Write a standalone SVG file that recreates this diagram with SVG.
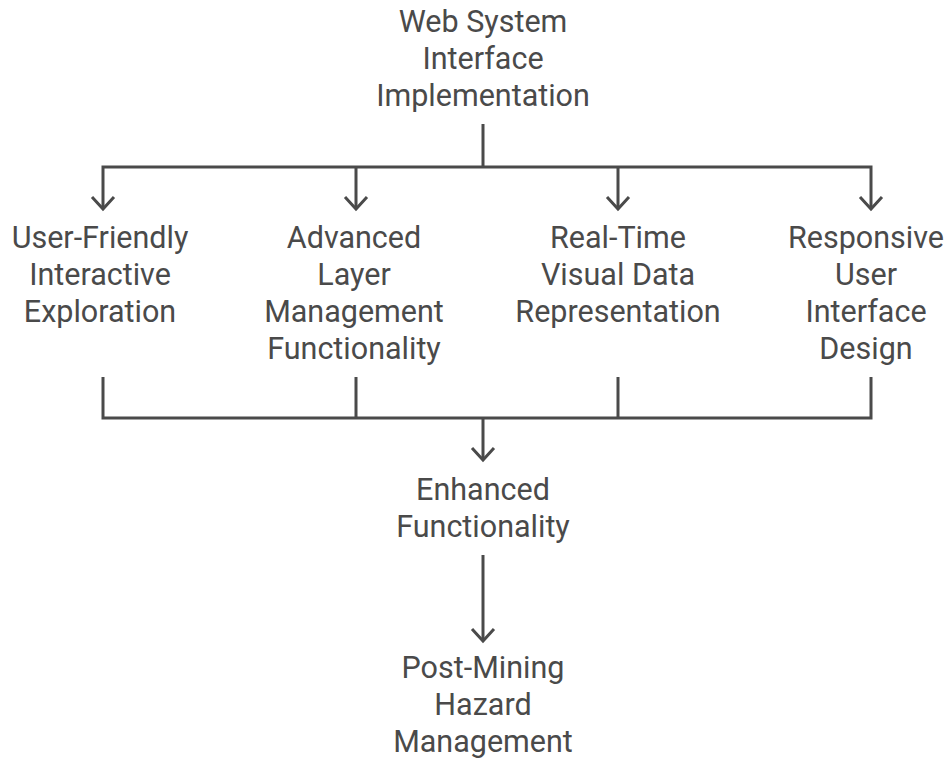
<svg xmlns="http://www.w3.org/2000/svg" width="949" height="760" viewBox="0 0 949 760">
<style>
text{font-family:Roboto,"Liberation Sans",sans-serif;font-size:30.5px;fill:#4a4a4a;text-anchor:middle}
.c{fill:none;stroke:#4a4a4a;stroke-width:3;stroke-linejoin:miter}
</style>
<rect width="949" height="760" fill="#fff"/>
<g id="connectors">
<path class="c" d="M483,124V167M103,208V167H871V208M356,167V208M618,167V208"/>
<path class="c" d="M92,197L103,209L114,197M345,197L356,209L367,197M607,197L618,209L629,197M860,197L871,209L882,197"/>
<path class="c" d="M103,377V418H871V377M356,377V418M618,377V418M483,418V459"/>
<path class="c" d="M472,448L483,460L494,448"/>
<path class="c" d="M483,555V640"/>
<path class="c" d="M472,629L483,641L494,629"/>
</g>
<g id="root"><text x="483" y="32">Web System</text><text x="483" y="69">Interface</text><text x="483" y="106">Implementation</text></g>
<g id="n1"><text x="100" y="248">User-Friendly</text><text x="100" y="285">Interactive</text><text x="100" y="322">Exploration</text></g>
<g id="n2"><text x="354" y="248">Advanced</text><text x="354" y="285">Layer</text><text x="354" y="322">Management</text><text x="354" y="359">Functionality</text></g>
<g id="n3"><text x="618" y="248">Real-Time</text><text x="618" y="285">Visual Data</text><text x="618" y="322">Representation</text></g>
<g id="n4"><text x="866" y="248">Responsive</text><text x="866" y="285">User</text><text x="866" y="322">Interface</text><text x="866" y="359">Design</text></g>
<g id="enhanced"><text x="483" y="500">Enhanced</text><text x="483" y="537">Functionality</text></g>
<g id="post"><text x="483" y="678">Post-Mining</text><text x="483" y="715">Hazard</text><text x="483" y="752">Management</text></g>
</svg>
